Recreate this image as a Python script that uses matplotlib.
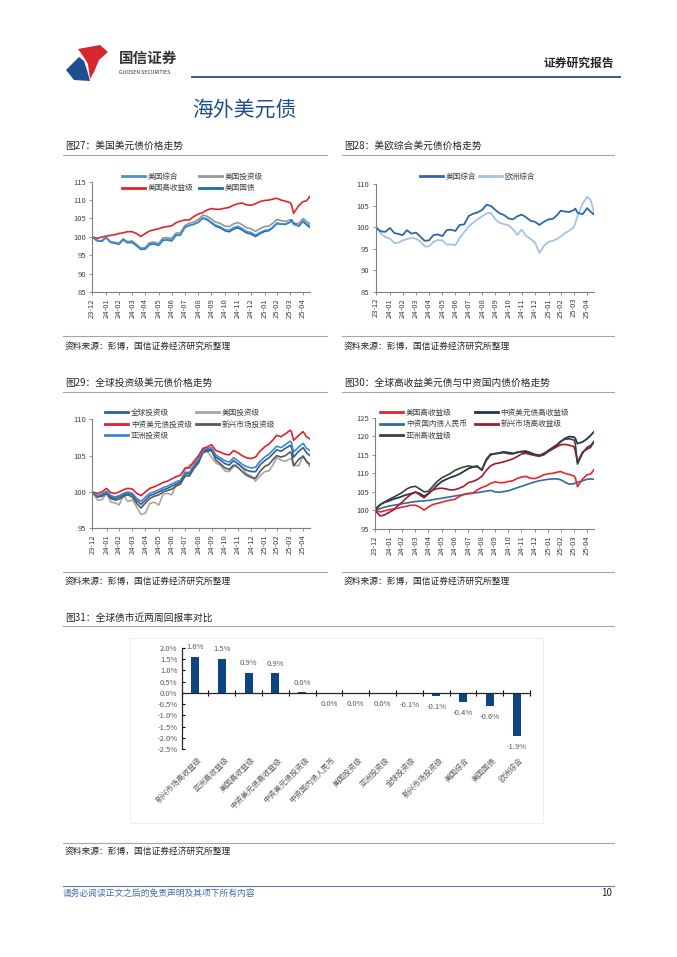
import matplotlib
matplotlib.use("Agg")
import matplotlib.pyplot as plt
from matplotlib.lines import Line2D
from matplotlib.patches import Polygon, Rectangle
import numpy as np
import pandas as pd

plt.rcParams["font.family"] = ["Noto Sans CJK SC", "DejaVu Sans"]
plt.rcParams["axes.unicode_minus"] = False

# ---- data: index levels (start = 100) ----
DATES = pd.to_datetime([
    "2023-12-29",
    "2024-01-10", "2024-01-20", "2024-01-31",
    "2024-02-10", "2024-02-20", "2024-02-29",
    "2024-03-10", "2024-03-20", "2024-03-31",
    "2024-04-10", "2024-04-20", "2024-04-30",
    "2024-05-10", "2024-05-20", "2024-05-31",
    "2024-06-10", "2024-06-20", "2024-06-30",
    "2024-07-10", "2024-07-20", "2024-07-31",
    "2024-08-10", "2024-08-20", "2024-08-31",
    "2024-09-10", "2024-09-20", "2024-09-30",
    "2024-10-10", "2024-10-20", "2024-10-31",
    "2024-11-10", "2024-11-20", "2024-11-30",
    "2024-12-10", "2024-12-20", "2024-12-31",
    "2025-01-10", "2025-01-20", "2025-01-31",
    "2025-02-10", "2025-02-20", "2025-02-28",
    "2025-03-10", "2025-03-20", "2025-03-31",
    "2025-04-03", "2025-04-08", "2025-04-20", "2025-04-30",
    "2025-05-08", "2025-05-16",
])

US_AGG = [100.0,
          99.0, 98.9, 99.8, 98.6, 98.4, 98.1, 99.3, 98.5, 98.7,
          97.8, 96.8, 96.9, 98.1, 98.3, 97.9, 99.3, 99.4, 99.1,
          100.5, 100.6, 102.6, 103.1, 103.4, 104.0, 105.2, 104.9, 104.0,
          103.2, 102.8, 102.0, 101.8, 102.5, 102.9, 102.3, 101.5, 101.2,
          100.5, 101.2, 101.8, 101.9, 102.8, 103.8, 103.6, 103.5, 104.0,
          104.3, 103.3, 103.0, 104.4,
          103.6, 102.9]
US_IG = [100.0,
         98.9, 98.9, 99.8, 98.6, 98.5, 98.2, 99.5, 98.7, 98.9,
         97.9, 96.9, 97.1, 98.4, 98.6, 98.2, 99.7, 99.8, 99.6,
         101.0, 101.1, 103.1, 103.7, 104.0, 104.7, 105.9, 105.6, 104.8,
         104.0, 103.7, 102.9, 102.8, 103.5, 103.9, 103.3, 102.5, 102.2,
         101.5, 102.2, 102.8, 102.9, 103.8, 104.7, 104.4, 104.2, 104.6,
         104.6, 103.7, 103.6, 105.0,
         104.2, 103.5]
US_TSY = [100.0,
          99.0, 98.8, 99.8, 98.5, 98.3, 98.0, 99.2, 98.4, 98.5,
          97.6, 96.6, 96.7, 97.9, 98.1, 97.7, 99.1, 99.2, 98.9,
          100.4, 100.5, 102.6, 103.1, 103.4, 104.0, 105.1, 104.7, 103.8,
          102.9, 102.5, 101.7, 101.4, 102.1, 102.5, 101.9, 101.1, 100.8,
          100.1, 100.9, 101.5, 101.7, 102.6, 103.6, 103.5, 103.4, 104.0,
          104.6, 103.7, 102.9, 104.2,
          103.3, 102.6]
US_HY = [100.0,
         99.6, 99.9, 100.2, 100.4, 100.6, 100.9, 101.1, 101.4, 101.4,
         100.9, 100.1, 100.9, 101.6, 101.9, 102.2, 102.6, 102.8, 103.0,
         103.8, 104.3, 104.6, 104.6, 105.5, 106.2, 106.6, 107.3, 107.7,
         107.5, 107.5, 107.8, 108.0, 108.6, 109.0, 109.2, 108.7, 108.6,
         109.0, 109.6, 109.9, 110.0, 110.3, 110.5, 110.0, 109.7, 109.3,
         108.8, 106.4, 108.5, 109.6,
         109.8, 111.0]
EUR_AGG = [100.0,
           98.5, 97.7, 97.3, 96.3, 96.4, 96.9, 97.2, 97.5, 97.3,
           96.7, 95.5, 95.5, 96.5, 97.0, 96.9, 95.9, 96.0, 95.8,
           97.5, 98.8, 100.2, 101.0, 101.8, 102.5, 103.2, 103.3, 101.8,
           101.0, 100.7, 100.4, 99.5, 98.2, 99.4, 98.0, 97.3, 96.4,
           94.0, 95.6, 96.6, 96.8, 97.3, 97.8, 98.6, 99.2, 100.0,
           101.0, 102.5, 105.5, 107.0,
           106.3, 103.5]
GLOBAL_IG = [99.9,
             99.4, 99.6, 100.0, 99.3, 99.1, 99.3, 99.6, 99.8, 99.6,
             98.8, 98.3, 98.9, 99.5, 99.7, 100.0, 100.3, 100.5, 100.8,
             101.1, 101.4, 102.5, 102.5, 103.5, 104.3, 105.6, 105.8, 105.9,
             104.8, 104.4, 103.9, 103.7, 104.3, 103.9, 103.4, 103.0, 102.8,
             102.8, 103.7, 104.3, 104.7, 105.3, 105.8, 105.6, 106.0, 106.4,
             106.2, 104.8, 105.6, 106.1,
             105.4, 105.0]
CN_USD_IG = [100.0,
             99.8, 100.0, 100.5, 99.9, 99.8, 100.0, 100.3, 100.5, 100.4,
             99.8, 99.5, 100.0, 100.5, 100.7, 101.0, 101.3, 101.5, 101.8,
             102.1, 102.3, 103.3, 103.3, 104.2, 105.0, 106.0, 106.2, 106.5,
             105.7, 105.5, 105.2, 105.1, 105.7, 105.4, 105.0, 104.7, 104.6,
             104.8, 105.6, 106.2, 106.6, 107.2, 107.8, 107.6, 108.0, 108.5,
             108.3, 107.1, 107.8, 108.3,
             107.6, 107.3]
EM_IG = [99.9,
         99.3, 99.4, 99.8, 99.1, 98.9, 99.0, 99.4, 99.6, 99.3,
         98.4, 97.8, 98.5, 99.1, 99.4, 99.6, 100.0, 100.2, 100.4,
         100.8, 101.1, 102.2, 102.2, 103.2, 104.0, 105.4, 105.6, 105.7,
         104.4, 103.9, 103.3, 103.1, 103.7, 103.4, 102.8, 102.3, 102.0,
         101.9, 102.8, 103.5, 103.8, 104.5, 105.0, 104.8, 105.0, 105.5,
         105.3, 103.6, 104.5, 104.9,
         104.2, 103.8]
ASIA_IG = [99.9,
           99.5, 99.7, 100.1, 99.5, 99.3, 99.5, 99.8, 100.0, 99.8,
           99.1, 98.7, 99.3, 99.8, 100.0, 100.3, 100.6, 100.8, 101.1,
           101.4, 101.6, 102.7, 102.7, 103.7, 104.5, 105.8, 106.0, 106.1,
           105.1, 104.7, 104.3, 104.1, 104.7, 104.3, 103.8, 103.5, 103.3,
           103.4, 104.2, 104.8, 105.2, 105.8, 106.3, 106.1, 106.5, 107.0,
           106.8, 105.5, 106.2, 106.7,
           106.0, 105.7]
CN_USD_HY = [100.3,
             101.6, 102.2, 102.6, 103.1, 103.4, 103.8, 104.2, 104.5, 104.9,
             104.6, 103.8, 104.6, 105.6, 106.8, 107.8, 108.4, 108.9, 109.3,
             109.8, 110.5, 111.3, 111.7, 111.8, 111.0, 113.5, 115.0, 115.3,
             115.5, 115.8, 115.6, 115.4, 115.6, 115.9, 116.0, 115.6, 115.1,
             114.9, 115.0, 115.9, 116.6, 117.6, 118.5, 119.4, 119.9, 119.8,
             119.4, 118.0, 118.5, 119.3,
             120.2, 121.2]
CN_RMB = [100.0,
          100.5, 100.9, 101.2, 101.4, 101.6, 101.8, 102.0, 102.2, 102.4,
          102.5, 102.6, 102.7, 102.9, 103.1, 103.3, 103.5, 103.7, 103.9,
          104.1, 104.3, 104.5, 104.7, 104.8, 105.0, 105.2, 105.4, 105.0,
          104.9, 105.1, 105.3, 105.7, 106.1, 106.5, 106.9, 107.3, 107.7,
          108.0, 108.2, 108.4, 108.5, 108.5, 108.3, 107.6, 107.1, 107.2,
          107.4, 107.6, 108.0, 108.4,
          108.5, 108.4]
EM_HY = [100.0,
         98.5, 98.8, 99.5, 100.2, 101.3, 102.2, 103.3, 104.3, 105.0,
         104.2, 103.4, 104.5, 105.5, 105.9, 106.0, 105.8, 105.5, 105.6,
         106.0, 106.5, 107.5, 107.8, 108.3, 109.2, 110.8, 112.0, 112.6,
         112.8, 113.1, 113.5, 113.9, 114.5, 115.2, 115.4, 115.1, 114.9,
         114.8, 115.4, 116.1, 116.6, 117.2, 117.7, 117.8, 117.6, 117.2,
         116.0, 113.0, 115.8, 116.5,
         117.0, 118.5]
ASIA_HY = [100.0,
           101.5, 102.3, 103.0, 103.6, 104.2, 104.8, 105.7, 106.3, 106.5,
           105.8, 105.0, 105.2, 106.5, 107.8, 108.8, 109.4, 110.0, 110.8,
           111.3, 111.7, 112.0, 111.8, 112.0, 110.8, 113.8, 115.2, 115.3,
           115.4, 115.6, 115.3, 115.2, 115.7, 115.8, 115.6, 115.3, 114.8,
           114.6, 115.0, 116.2, 117.0, 117.8, 118.6, 119.2, 119.3, 119.0,
           118.0, 112.5, 115.5, 117.0,
           117.5, 118.6]

BAR_CATS = ["新兴市场高收益级", "亚洲高收益级", "美国高收益级", "中资美元债高收益级",
            "中资美元债投资级", "中资国内债人民币", "美国投资级", "亚洲投资级",
            "全球投资级", "新兴市场投资级", "美国综合", "美国国债", "欧洲综合"]
BAR_VALUES = [1.6, 1.5, 0.9, 0.86, 0.02, -0.01, -0.01, -0.02, -0.06, -0.12, -0.4, -0.6, -1.9]

MONTH_TICKS = [pd.Timestamp("2023-12-29")] + list(
    pd.date_range("2024-02-01", "2025-05-01", freq="MS") - pd.Timedelta(days=1))
MONTH_LABELS = [d.strftime("%y-%m") for d in MONTH_TICKS]

SOURCE = "资料来源：彭博，国信证券经济研究所整理"
TXT = "#404040"

W, H = 677, 957
fig = plt.figure(figsize=(W / 100, H / 100), dpi=100)


def rect(x0, y0, x1, y1):
    return [x0 / W, 1 - y1 / H, (x1 - x0) / W, (y1 - y0) / H]


def ftext(x, y, s, **kw):
    fig.text(x / W, 1 - y / H, s, **kw)


def hline(x0, x1, y, color="#a6a6a6", lw=0.8):
    fig.add_artist(Line2D([x0 / W, x1 / W], [1 - y / H, 1 - y / H],
                          transform=fig.transFigure, color=color, lw=lw))


def panel_frame(x0, x1, y_head, y_line, y_src_line, y_src, title):
    ftext(x0 + 2, y_head, title, fontsize=7, color="#262626", va="center")
    hline(x0, x1, y_line)
    hline(x0, x1, y_src_line)
    ftext(x0 + 2, y_src, SOURCE, fontsize=6.3, color="#262626", va="center")


def line_chart(box, series, ylim):
    ax = fig.add_axes(rect(*box))
    handles = {}
    for values, color, lw, label in series:
        handles[label], = ax.plot(DATES, values, color=color, lw=lw, label=label)
    ax.set_xlim(DATES[0], DATES[-1])
    ax.set_ylim(*ylim)
    ax.set_yticks(np.arange(ylim[0], ylim[1] + 1, 5))
    ax.set_xticks(MONTH_TICKS)
    ax.set_xticklabels(MONTH_LABELS, rotation=90)
    ax.tick_params(labelsize=5.5, labelcolor=TXT, color="#7f7f7f", length=2.5, width=0.6, pad=2)
    for side in ("top", "right"):
        ax.spines[side].set_visible(False)
    for side in ("left", "bottom"):
        ax.spines[side].set_color("#7f7f7f")
        ax.spines[side].set_linewidth(0.8)
    return ax, handles


def add_legend(ax, handles, order, anchor, ncol, colspace):
    leg = ax.legend([handles[k] for k in order], order, loc="upper left",
                    bbox_to_anchor=(anchor[0] / W, 1 - anchor[1] / H),
                    bbox_transform=fig.transFigure, ncol=ncol, frameon=False,
                    fontsize=5.5, handlelength=3.0, handletextpad=0.4,
                    columnspacing=colspace, labelspacing=0.45, borderpad=0,
                    borderaxespad=0, labelcolor=TXT)
    for ln in leg.get_lines():
        ln.set_linewidth(2.0)


# ---- page header ----
fig.add_artist(Polygon([(78 / W, 1 - 49 / H), (100 / W, 1 - 45 / H), (108 / W, 1 - 52 / H),
                        (99 / W, 1 - 60 / H), (94 / W, 1 - 72 / H), (90 / W, 1 - 79 / H),
                        (88 / W, 1 - 64 / H), (83 / W, 1 - 56 / H)],
                       closed=True, transform=fig.transFigure, fc="#d7262e", ec="none"))
fig.add_artist(Polygon([(66 / W, 1 - 70 / H), (79 / W, 1 - 57 / H), (84 / W, 1 - 61 / H),
                        (87 / W, 1 - 70 / H), (90 / W, 1 - 81 / H), (74 / W, 1 - 80 / H)],
                       closed=True, transform=fig.transFigure, fc="#1f4f8f", ec="none"))
ftext(119, 58, "国信证券", fontsize=10.5, fontweight="bold", color="#333333", va="center")
ftext(119, 72, "GUOSEN SECURITIES", fontsize=3.8, color="#333333", va="center")
ftext(614, 63, "证券研究报告", fontsize=8.5, fontweight="bold", color="#262626",
      va="center", ha="right")
hline(192, 620, 77, color="#2f5d8f", lw=1.4)
ftext(192, 110, "海外美元债", fontsize=15, color="#1f4e8c", va="center")

# ---- figure 27 ----
panel_frame(63, 327, 146, 155, 336, 346, "图27：美国美元债价格走势")
ax, h = line_chart((92, 181.7, 310, 292),
                   [(US_HY, "#e3242b", 1.2, "美国高收益级"),
                    (US_IG, "#969696", 1.2, "美国投资级"),
                    (US_TSY, "#1a6cb6", 1.3, "美国国债"),
                    (US_AGG, "#4a90d0", 1.0, "美国综合")],
                   (85, 115))
add_legend(ax, h, ["美国综合", "美国高收益级", "美国投资级", "美国国债"], (122, 173), 2, 0.7)

# ---- figure 28 ----
panel_frame(342, 614, 146, 155, 336, 346, "图28：美欧综合美元债价格走势")
ax, h = line_chart((375.7, 184, 594, 291.7),
                   [(EUR_AGG, "#a3c3e8", 1.3, "欧洲综合"),
                    (US_AGG, "#2e67a8", 1.3, "美国综合")],
                   (85, 110))
add_legend(ax, h, ["美国综合", "欧洲综合"], (420, 173), 2, 0.3)

# ---- figure 29 ----
panel_frame(63, 327, 383, 392, 572, 581, "图29：全球投资级美元债价格走势")
ax, h = line_chart((92.3, 419.3, 310, 528.3),
                   [(US_IG, "#a6a6a6", 1.2, "美国投资级"),
                    (EM_IG, "#595959", 1.2, "新兴市场投资级"),
                    (GLOBAL_IG, "#2d5f95", 1.2, "全球投资级"),
                    (ASIA_IG, "#3b86cf", 1.2, "亚洲投资级"),
                    (CN_USD_IG, "#e0202a", 1.2, "中资美元债投资级")],
                   (95, 110))
add_legend(ax, h, ["全球投资级", "中资美元债投资级", "亚洲投资级", "美国投资级", "新兴市场投资级"],
           (105, 409), 2, 0.5)

# ---- figure 30 ----
panel_frame(342, 614, 383, 392, 572, 581, "图30：全球高收益美元债与中资国内债价格走势")
ax, h = line_chart((375, 417.7, 594, 529),
                   [(CN_RMB, "#2f6aa3", 1.2, "中资国内债人民币"),
                    (US_HY, "#e8242e", 1.2, "美国高收益级"),
                    (CN_USD_HY, "#1f3550", 1.3, "中资美元债高收益级"),
                    (EM_HY, "#a01a2a", 1.2, "新兴市场高收益级"),
                    (ASIA_HY, "#3f3f3f", 1.2, "亚洲高收益级")],
                   (95, 125))
add_legend(ax, h, ["美国高收益级", "中资国内债人民币", "亚洲高收益级", "中资美元债高收益级", "新兴市场高收益级"],
           (380, 409), 2, 1.0)

# ---- figure 31: bar chart ----
ftext(65, 618, "图31：全球债市近两周回报率对比", fontsize=7, color="#262626", va="center")
hline(63, 614, 626)
fig.add_artist(Rectangle((130 / W, 1 - 823 / H), (543 - 130) / W, (823 - 638) / H,
                         transform=fig.transFigure, fill=False, ec="#ebebeb", lw=0.6))
ax = fig.add_axes(rect(181.7, 647.7, 530, 749.3))
xs = np.arange(len(BAR_CATS))
ax.bar(xs, BAR_VALUES, width=0.3, color="#0d4582")
ax.set_xlim(-0.5, len(BAR_CATS) - 0.5)
ax.set_ylim(-2.5, 2.0)
yt = np.arange(-2.5, 2.01, 0.5)
ax.set_yticks(yt)
ax.set_yticklabels([f"{v:.1f}%" for v in yt])
ax.set_xticks(np.arange(-0.5, len(BAR_CATS), 1))
ax.set_xticklabels([])
ax.tick_params(axis="y", direction="in", length=2.5, width=0.8, labelsize=5.5,
               labelcolor="#595959", pad=3)
ax.tick_params(axis="x", direction="inout", length=4, width=0.8)
ax.spines["bottom"].set_position(("data", 0))
for side in ("top", "right"):
    ax.spines[side].set_visible(False)
for side in ("left", "bottom"):
    ax.spines[side].set_color("#262626")
    ax.spines[side].set_linewidth(0.9)
for i, v in enumerate(BAR_VALUES):
    label = f"{v:.1f}%"
    if label == "-0.0%":
        label = "0.0%"
    if v >= 0:
        ax.annotate(label, (i, v), xytext=(0, 4), textcoords="offset points",
                    ha="center", va="bottom", fontsize=5.5, color="#595959")
    else:
        ax.annotate(label, (i, v), xytext=(0, -5), textcoords="offset points",
                    ha="center", va="top", fontsize=5.5, color="#595959")
for i, cat in enumerate(BAR_CATS):
    ax.annotate(cat, (i, 0), xycoords=("data", "axes fraction"), xytext=(4, -7),
                textcoords="offset points", rotation=45, rotation_mode="anchor",
                ha="right", va="center", fontsize=5.5, color="#595959")

hline(63, 614, 843)
ftext(65, 851, SOURCE, fontsize=6.3, color="#262626", va="center")

# ---- footer ----
hline(63, 614, 886, color="#5b7fa6", lw=0.8)
ftext(63, 893, "请务必阅读正文之后的免责声明及其项下所有内容", fontsize=6.3,
      color="#3f6fa8", va="center")
ftext(612, 893, "10", fontsize=7, color="#262626", va="center", ha="right")

fig.savefig("out.png", dpi=100)
